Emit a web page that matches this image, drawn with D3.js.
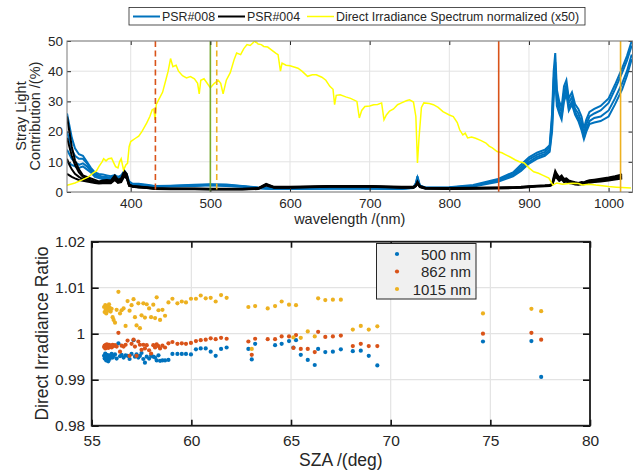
<!DOCTYPE html>
<html>
<head>
<meta charset="utf-8">
<script src="https://cdn.jsdelivr.net/npm/d3@7"></script>
<style>
  body { margin: 0; background: #fff; }
  text { font-family: "Liberation Sans", Arial, sans-serif; fill: #262626; }
</style>
</head>
<body>
<script>
// ---- top panel: stray light vs wavelength ----
const wl = [320, 323, 326, 330, 335, 340, 345, 350, 355, 360, 365, 370, 375, 380, 384, 388, 392, 395, 398, 402,
  410, 420, 430, 450, 480, 500, 520, 540, 560, 570, 580, 600, 650, 700, 740, 755, 758, 760, 763, 770,
  800, 830, 860, 880, 890, 900, 910, 920, 926, 929, 931, 933, 935, 938, 941, 944, 947, 950, 954, 958,
  962, 966, 969, 972, 976, 982, 990, 1000, 1008, 1017, 1023, 1029];

const psr008 = [
  [26, 22, 18, 14.5, 12.5, 12, 10, 8, 6.5, 6, 5.8, 5.5, 5.2, 5.6, 5, 5.5, 7, 6, 3.5, 2.8,
   2.7, 2.4, 2, 2.1, 2.4, 2.6, 2.5, 2, 1.5, 1.4, 1.3, 1.3, 1.4, 1.4, 1.3, 1.6, 3, 5.2, 2.2, 1.5,
   1.6, 2.3, 4.2, 6.5, 9, 11.5, 13, 14, 15.5, 26, 40, 46, 34, 30, 28, 35, 37, 31, 33, 29,
   27.5, 25, 21, 24, 26.5, 27.5, 28.5, 31, 35.5, 41, 45, 50],
  [20, 17, 14, 12, 11, 11, 9.5, 7.5, 6, 5.5, 5, 5, 4.7, 5.2, 4.6, 5, 6.3, 5.5, 3.2, 2.6,
   2.5, 2.2, 1.9, 2, 2.2, 2.4, 2.3, 1.9, 1.4, 1.3, 1.2, 1.2, 1.3, 1.3, 1.2, 1.5, 2.7, 4.8, 2, 1.4,
   1.5, 2.1, 3.9, 6, 8.3, 10.8, 12.3, 13.3, 14.8, 24, 37, 43, 32, 28.5, 26.5, 33, 35.5, 29.5, 31.5, 27.5,
   26, 23, 19.5, 22.5, 25, 26, 27, 29.5, 34, 39.5, 43.5, 48.5],
  [14, 12.5, 11, 10, 9, 9.5, 8.5, 7, 5.5, 5, 4.5, 4.6, 4.3, 4.8, 4.3, 4.6, 5.8, 5, 3, 2.5,
   2.4, 2.1, 1.8, 1.9, 2.1, 2.3, 2.1, 1.8, 1.3, 1.2, 1.1, 1.1, 1.2, 1.2, 1.1, 1.4, 2.5, 4.5, 1.9, 1.3,
   1.4, 2, 3.6, 5.6, 7.6, 10, 11.6, 12.6, 14, 22, 34, 41, 30, 27, 25, 31.5, 34, 28, 30, 26.5,
   24.5, 21.5, 18, 21, 23.5, 24.5, 25, 27, 31, 36, 40, 45.5],
  [10, 9.5, 9, 8.5, 8, 8.5, 7.5, 6.5, 5, 4.6, 4.2, 4.3, 4, 4.5, 4, 4.2, 5.2, 4.6, 2.8, 2.4,
   2.3, 2, 1.7, 1.8, 2, 2.2, 2, 1.7, 1.2, 1.1, 1, 1, 1.1, 1.1, 1, 1.3, 2.3, 4.2, 1.8, 1.2,
   1.3, 1.8, 3.3, 5.2, 7, 9.4, 11, 12, 13.3, 20, 31, 39, 28.5, 26, 24, 30, 32.5, 27, 29, 25.5,
   23.5, 20.5, 17.5, 20, 22.5, 23, 23.5, 25, 29, 34, 38.5, 44]
];

const psr004 = [
  [25, 20, 15, 10.5, 7.5, 5.5, 5, 4.5, 4, 3.5, 3.8, 4, 3.8, 5.5, 4, 4.5, 7, 6, 2.5, 2,
   1.8, 1.6, 1.3, 1.2, 1.2, 1.1, 1.1, 1.1, 1.3, 2.7, 1.7, 1.7, 2, 2, 1.7, 1.7, 2.3, 3.5, 2, 1.4,
   1.3, 1.4, 1.5, 1.6, 1.7, 1.9, 2.1, 2.2, 2.3, 2.6, 5, 7, 6, 4.8, 5.5, 4.3, 4.5, 3.8, 3.5, 3.2,
   3, 3.3, 3.2, 3.6, 3.9, 4.1, 4.4, 4.8, 5.2, 5.8, null, null],
  [18, 15, 12, 9, 6.5, 5, 4.6, 4, 3.5, 3.2, 3.4, 3.6, 3.4, 5, 3.6, 4, 6.3, 5.5, 2.3, 1.9,
   1.7, 1.5, 1.2, 1.1, 1.1, 1, 1, 1, 1.2, 2.5, 1.6, 1.6, 1.9, 1.9, 1.6, 1.6, 2.1, 3.2, 1.8, 1.3,
   1.2, 1.3, 1.4, 1.5, 1.6, 1.8, 2, 2.1, 2.2, 2.5, 4.5, 6.3, 5.5, 4.3, 5, 3.9, 4.1, 3.4, 3.2, 2.9,
   2.8, 3, 3, 3.3, 3.6, 3.8, 4.1, 4.4, 4.8, 5.2, null, null],
  [11, 9, 7.5, 6, 5, 4.2, 4, 3.6, 3.2, 3, 3.1, 3.3, 3.1, 4.5, 3.3, 3.6, 5.8, 5, 2.1, 1.8,
   1.6, 1.4, 1.1, 1, 1, 0.9, 0.9, 0.9, 1.1, 2.3, 1.5, 1.5, 1.8, 1.8, 1.5, 1.5, 2, 3, 1.7, 1.2,
   1.1, 1.2, 1.3, 1.4, 1.5, 1.7, 1.9, 2, 2.1, 2.4, 4, 5.8, 5, 4, 4.6, 3.6, 3.8, 3.2, 3, 2.7,
   2.6, 2.8, 2.8, 3.1, 3.3, 3.5, 3.8, 4.1, 4.4, 4.8, null, null],
  [6, 5.5, 5, 4.5, 4, 3.7, 3.5, 3.2, 3, 2.8, 2.9, 3, 2.9, 4, 3, 3.3, 5.2, 4.5, 2, 1.7,
   1.5, 1.3, 1, 0.9, 0.9, 0.8, 0.8, 0.8, 1, 2.1, 1.4, 1.4, 1.7, 1.7, 1.4, 1.4, 1.9, 2.8, 1.6, 1.1,
   1, 1.1, 1.2, 1.3, 1.4, 1.6, 1.8, 1.9, 2, 2.3, 3.6, 5.2, 4.6, 3.7, 4.2, 3.3, 3.5, 3, 2.8, 2.5,
   2.4, 2.6, 2.6, 2.9, 3.1, 3.3, 3.5, 3.8, 4.1, 4.5, null, null]
];

const irrWl = [320, 330, 339, 347, 353, 357, 360, 364, 366, 369, 372, 376, 379, 381, 384, 386, 388, 391, 394, 396,
  398, 400, 406, 410, 414, 420, 424, 427, 429, 430.5, 432, 435, 440, 444, 447, 450, 453, 457, 460, 465,
  470, 475, 480, 484, 486, 488, 492, 496, 500, 505, 510, 513, 516, 520, 525, 530, 533, 538, 542, 546,
  550, 556, 560, 564, 567, 572, 577, 582, 585, 588, 590, 595, 600, 610, 615, 622, 628, 633, 640, 645,
  650, 654, 656, 658, 663, 670, 676, 684, 687, 690, 694, 700, 705, 710, 715, 718, 721, 725, 730, 735,
  740, 746, 750, 755, 758, 760, 762, 765, 768, 775, 780, 786, 792, 800, 805, 810, 813, 817, 820, 823,
  828, 833, 840, 846, 850, 854, 860, 866, 871, 877, 883, 888, 894, 900, 906, 912, 917, 925, 930, 935,
  942, 950, 955, 962, 967, 975, 984, 992, 1000, 1010, 1017, 1028];
const irrVal = [2.2, 3, 4, 5, 6.3, 7, 8.4, 10, 11, 10.3, 11, 11.2, 9.5, 8.4, 8, 10, 11, 7.3, 9, 9.5,
  15, 16.7, 17.8, 18.5, 20, 22.8, 25, 27.2, 27.5, 23.9, 28.9, 30.5, 33, 37, 40, 44.2, 41.5, 42, 40, 38.5,
  37.8, 38.2, 37.5, 36, 32.5, 37, 37.5, 36, 34.5, 36, 37, 36, 32.5, 37, 39.5, 44, 46, 45.5, 47.5, 48.8,
  48.5, 50, 49, 48.8, 48.2, 48, 47, 46, 45.5, 40, 42.7, 42, 41.8, 41, 40, 38.3, 38.8, 38.8, 38, 37,
  35, 34, 28.9, 32, 32.2, 31.5, 31, 30, 24.5, 27, 28.3, 28.5, 28.9, 29, 29.5, 23.9, 25.5, 26.8, 27.5, 28.9,
  29.5, 30.2, 30.5, 29.8, 25, 9.6, 18, 28, 29.5, 29.3, 28.9, 28, 26.6, 25.5, 25, 23, 20.6, 18.9, 19.5, 17.9,
  18.2, 17.8, 17, 16.2, 15.2, 14.6, 13.4, 13, 12.3, 11.5, 10.6, 10, 9.6, 8, 6.7, 6.2, 5.6, 4.6, 2.3, 3,
  2.6, 2.8, 2.9, 2.8, 2.3, 2.6, 2.3, 2.1, 1.8, 1.6, 1.5, 1.3];

const markWl = [431, 500, 508, 862, 1015];
const markColor = ['#D95319', '#77AC30', '#EDB120', '#D95319', '#EDB120'];
const markDash = [true, false, true, false, false];

const legendTop = ['PSR#008', 'PSR#004', 'Direct Irradiance Spectrum normalized (x50)'];
const xTicksTop = [400, 500, 600, 700, 800, 900, 1000];
const yTicksTop = [0, 10, 20, 30, 40, 50];

// ---- bottom panel: direct irradiance ratio vs SZA ----
const sza = [55.62, 55.65, 55.68, 55.70, 55.73, 55.76, 55.80, 55.83, 55.87, 55.90, 55.95, 56.00, 56.05, 56.10, 56.17,
  56.25, 56.34, 56.42, 56.50, 56.60, 56.70, 56.80, 56.90, 57.00, 57.10, 57.17, 57.25, 57.34, 57.42, 57.50,
  57.59, 57.67, 57.76, 57.88, 57.98, 58.09, 58.18, 58.26, 58.35, 58.43, 58.55, 58.68, 58.85, 59.05, 59.30,
  59.52, 59.73, 59.98, 60.23, 60.47, 60.72, 60.97, 61.22, 61.49, 61.77, 62.86, 63.03, 63.20, 63.83, 64.20,
  64.53, 64.90, 65.12, 65.25, 65.49, 65.84, 66.19, 66.36, 66.72, 67.10, 67.50, 68.10, 68.50, 68.90, 69.33,
  74.63, 77.06, 77.55];
const ratio500 = [0.9952, 0.9946, 0.9957, 0.9949, 0.9942, 0.9954, 0.9947, 0.9940, 0.9953, 0.9945, 0.9950, 0.9956, 0.9948, 0.9952, 0.9955,
  0.9946, 0.9979, 0.9951, 0.9954, 0.9948, 0.9953, 0.9952, 0.9945, 0.9956, 0.9986, 0.9950, 0.9955, 0.9948, 0.9952, 0.9958,
  0.9945, 0.9937, 0.9950, 0.9946, 0.9952, 0.9950, 0.9948, 0.9942, 0.9953, 0.9941, 0.9942, 0.9942, 0.9943, 0.9956, 0.9956,
  0.9956, 0.9956, 0.9955, 0.9966, 0.9968, 0.9968, 0.9961, 0.9952, 0.9967, 0.9970, 0.9967, 0.9944, 0.9978, null, 0.9975,
  0.9978, 0.9984, 0.9970, 0.9986, 0.9954, 0.9943, 0.9932, 0.9967, 0.9960, 0.9961, 0.9966, 0.9962, 0.9963, 0.9952, 0.9931,
  0.9983, 0.9984, 0.9906];
const ratio862 = [0.9971, 0.9974, 0.9968, 0.9975, 0.9970, 0.9977, 0.9973, 0.9969, 0.9976, 0.9972, 0.9974, 0.9970, 0.9976, 0.9973, 0.9975,
  0.9972, 1.0002, 0.9961, 0.9974, 0.9972, 0.9976, 0.9985, 0.9952, 0.9978, 0.9987, 0.9972, 0.9952, 0.9983, 0.9976, 0.9965,
  0.9976, 0.9968, 0.9975, 0.9964, 0.9957, 0.9975, 0.9970, 0.9977, 0.9973, 0.9968, 0.9974, 0.9970, 0.9979, 0.9982, 0.9978,
  0.9979, 0.9978, 0.9980, 0.9984, 0.9986, 0.9987, 0.9990, 0.9988, 0.9991, 0.9989, 0.9983, 0.9954, 0.9989, 0.9988, 0.9988,
  0.9994, 0.9994, 0.9969, 0.9997, 0.9967, 0.9967, 0.9960, 1.0004, 0.9993, 0.9994, 0.9996, 0.9973, 0.9978, 0.9973, 0.9973,
  1.0000, 1.0002, 0.9987];
const ratio1015 = [1.0058, 1.0047, 1.0062, 1.0052, 1.0044, 1.0060, 1.0055, 1.0050, 1.0064, 1.0057, 1.0048, 1.0054, 1.0036, 1.0030, 1.0024,
  1.0052, 1.0091, 1.0044, 1.0051, 1.0055, 1.0017, 1.0071, 1.0050, 1.0062, 1.0075, 1.0036, 1.0018, 1.0066, 1.0012, 1.0040,
  1.0066, 1.0035, 1.0064, 1.0055, 1.0036, 1.0063, 1.0034, 1.0079, 1.0051, 1.0030, 1.0052, 1.0039, 1.0068, 1.0076, 1.0066,
  1.0070, 1.0068, 1.0076, 1.0076, 1.0083, 1.0077, 1.0078, 1.0070, 1.0084, 1.0078, 1.0058, 0.9967, 1.0060, 1.0055, 1.0060,
  1.0070, 1.0063, 0.9992, 1.0062, 0.9991, 1.0005, 0.9994, 1.0077, 1.0073, 1.0074, 1.0074, 1.0009, 1.0017, 1.0009, 1.0016,
  1.0044, 1.0054, 1.0049];

const legendBot = ['500 nm', '862 nm', '1015 nm'];
const xTicksBot = [55, 60, 65, 70, 75, 80];
const yTicksBot = [0.98, 0.99, 1, 1.01, 1.02];
const yTickLabelsBot = ['0.98', '0.99', '1', '1.01', '1.02'];

const W = 637, H = 473;
const svg = d3.select('body').append('svg').attr('width', W).attr('height', H);

// ================= top panel =================
const T = { l: 67, r: 632.5, t: 41, b: 192 };
const x1 = d3.scaleLinear().domain([320, 1030]).range([T.l, T.r]);
const y1 = d3.scaleLinear().domain([0, 50]).range([T.b, T.t]);

svg.append('defs').append('clipPath').attr('id', 'clipTop')
  .append('rect').attr('x', T.l).attr('y', T.t).attr('width', T.r - T.l).attr('height', T.b - T.t);

const gridTop = svg.append('g').attr('stroke', '#e3e3e3').attr('stroke-width', 1);
gridTop.selectAll('.vx').data(xTicksTop).join('line')
  .attr('x1', d => x1(d)).attr('x2', d => x1(d)).attr('y1', T.t).attr('y2', T.b);
gridTop.selectAll('.hy').data(yTicksTop).join('line')
  .attr('y1', d => y1(d)).attr('y2', d => y1(d)).attr('x1', T.l).attr('x2', T.r);

const plotTop = svg.append('g').attr('clip-path', 'url(#clipTop)');
const line1 = d3.line().defined(d => d[1] != null).x(d => x1(d[0])).y(d => y1(d[1]));

psr008.forEach(s => {
  plotTop.append('path').datum(wl.map((w, i) => [w, s[i]]))
    .attr('d', line1).attr('fill', 'none').attr('stroke', '#0072BD').attr('stroke-width', 2);
});
psr004.forEach(s => {
  plotTop.append('path').datum(wl.map((w, i) => [w, s[i]]))
    .attr('d', line1).attr('fill', 'none').attr('stroke', '#000').attr('stroke-width', 2);
});
plotTop.append('path').datum(irrWl.map((w, i) => [w, irrVal[i]]))
  .attr('d', line1).attr('fill', 'none').attr('stroke', '#FFFF00').attr('stroke-width', 1.5);

plotTop.selectAll('.mark').data(markWl).join('line')
  .attr('x1', d => x1(d)).attr('x2', d => x1(d)).attr('y1', T.t).attr('y2', T.b)
  .attr('stroke', (d, i) => markColor[i]).attr('stroke-width', 1.6)
  .attr('stroke-dasharray', (d, i) => markDash[i] ? '6,3.5' : null);

function styleAxis(g, col, fs) {
  g.select('.domain').remove();
  g.selectAll('.tick line').attr('stroke', col);
  g.selectAll('.tick text').style('font-size', fs + 'px').style('fill', '#262626')
    .style('font-family', '"Liberation Sans", Arial, sans-serif');
}

svg.append('g').attr('transform', `translate(0,${T.b})`)
  .call(d3.axisBottom(x1).tickValues(xTicksTop).tickFormat(d3.format('d'))
    .tickSizeInner(-4).tickSizeOuter(0).tickPadding(6.5))
  .call(g => styleAxis(g, '#262626', 13.5));
svg.append('g').attr('transform', `translate(0,${T.t})`)
  .call(d3.axisTop(x1).tickValues(xTicksTop).tickSizeInner(-4).tickSizeOuter(0).tickFormat(''))
  .call(g => styleAxis(g, '#262626', 13.5));
svg.append('g').attr('transform', `translate(${T.l},0)`)
  .call(d3.axisLeft(y1).tickValues(yTicksTop).tickSizeInner(-4).tickSizeOuter(0).tickPadding(4))
  .call(g => styleAxis(g, '#262626', 13.5));
svg.append('g').attr('transform', `translate(${T.r},0)`)
  .call(d3.axisRight(y1).tickValues(yTicksTop).tickSizeInner(-4).tickSizeOuter(0).tickFormat(''))
  .call(g => styleAxis(g, '#262626', 13.5));

svg.append('rect').attr('x', T.l).attr('y', T.t).attr('width', T.r - T.l).attr('height', T.b - T.t)
  .attr('fill', 'none').attr('stroke', '#7a7a7a').attr('stroke-width', 1);

svg.append('text').attr('x', (T.l + T.r) / 2).attr('y', 224).attr('text-anchor', 'middle')
  .style('font-size', '14.5px').text('wavelength /(nm)');
svg.append('text').attr('transform', 'translate(25.5,116) rotate(-90)').attr('text-anchor', 'middle')
  .style('font-size', '14.5px').text('Stray Light');
svg.append('text').attr('transform', 'translate(39.5,116) rotate(-90)').attr('text-anchor', 'middle')
  .style('font-size', '14.5px').text('Contribution /(%)');

// top legend
const lgT = svg.append('g');
lgT.append('rect').attr('x', 129).attr('y', 7.5).attr('width', 456).attr('height', 17.5)
  .attr('fill', '#fff').attr('stroke', '#262626').attr('stroke-width', 0.8);
const lgX = [133, 218, 307];
const lgCol = ['#0072BD', '#000', '#FFFF00'];
legendTop.forEach((name, i) => {
  lgT.append('line').attr('x1', lgX[i]).attr('x2', lgX[i] + 27).attr('y1', 16.5).attr('y2', 16.5)
    .attr('stroke', lgCol[i]).attr('stroke-width', i < 2 ? 2 : 1.5);
  lgT.append('text').attr('x', lgX[i] + 29).attr('y', 21).style('font-size', '12.4px').text(name);
});

// ================= bottom panel =================
const B = { l: 91.7, r: 590, t: 241.7, b: 425.7 };
const x2 = d3.scaleLinear().domain([55, 80]).range([B.l, B.r]);
const y2 = d3.scaleLinear().domain([0.98, 1.02]).range([B.b, B.t]);

const gridBot = svg.append('g').attr('stroke', '#e3e3e3').attr('stroke-width', 1.2);
gridBot.selectAll('.vx').data(xTicksBot).join('line')
  .attr('x1', d => x2(d)).attr('x2', d => x2(d)).attr('y1', B.t).attr('y2', B.b);
gridBot.selectAll('.hy').data(yTicksBot).join('line')
  .attr('y1', d => y2(d)).attr('y2', d => y2(d)).attr('x1', B.l).attr('x2', B.r);

const series = [ratio500, ratio862, ratio1015];
const serCol = ['#0072BD', '#D95319', '#EDB120'];
series.forEach((vals, k) => {
  svg.append('g').selectAll('circle')
    .data(sza.map((s, i) => [s, vals[i]]).filter(d => d[1] != null))
    .join('circle')
    .attr('cx', d => x2(d[0])).attr('cy', d => y2(d[1])).attr('r', 2.1)
    .attr('fill', serCol[k]);
});

svg.append('g').attr('transform', `translate(0,${B.b})`)
  .call(d3.axisBottom(x2).tickValues(xTicksBot).tickSizeInner(-6).tickSizeOuter(0).tickPadding(9.5))
  .call(g => styleAxis(g, '#111', 15.5))
  .call(g => g.selectAll('.tick line').attr('stroke-width', 1.6));
svg.append('g').attr('transform', `translate(0,${B.t})`)
  .call(d3.axisTop(x2).tickValues(xTicksBot).tickSizeInner(-6).tickSizeOuter(0).tickFormat(''))
  .call(g => styleAxis(g, '#111', 15.5))
  .call(g => g.selectAll('.tick line').attr('stroke-width', 1.6));
svg.append('g').attr('transform', `translate(${B.l},0)`)
  .call(d3.axisLeft(y2).tickValues(yTicksBot).tickSizeInner(-7).tickSizeOuter(0).tickPadding(6.5)
    .tickFormat((d, i) => yTickLabelsBot[i]))
  .call(g => styleAxis(g, '#111', 15.5))
  .call(g => g.selectAll('.tick line').attr('stroke-width', 1.6));
svg.append('g').attr('transform', `translate(${B.r},0)`)
  .call(d3.axisRight(y2).tickValues(yTicksBot).tickSizeInner(-7).tickSizeOuter(0).tickFormat(''))
  .call(g => styleAxis(g, '#111', 15.5))
  .call(g => g.selectAll('.tick line').attr('stroke-width', 1.6));

svg.append('rect').attr('x', B.l).attr('y', B.t).attr('width', B.r - B.l).attr('height', B.b - B.t)
  .attr('fill', 'none').attr('stroke', '#1a1a1a').attr('stroke-width', 1.8);

svg.append('text').attr('x', (B.l + B.r) / 2).attr('y', 466).attr('text-anchor', 'middle')
  .style('font-size', '17.5px').text('SZA /(deg)');
svg.append('text').attr('transform', 'translate(48,333.5) rotate(-90)').attr('text-anchor', 'middle')
  .style('font-size', '17.5px').text('Direct Irradiance Ratio');

// bottom legend
const lgB = svg.append('g');
lgB.append('rect').attr('x', 376.5).attr('y', 243.5).attr('width', 99.5).attr('height', 55.5)
  .attr('fill', '#f0f0f0').attr('stroke', '#262626').attr('stroke-width', 1);
const lgRowY = [254, 271.5, 289];
legendBot.forEach((name, i) => {
  lgB.append('circle').attr('cx', 397).attr('cy', lgRowY[i]).attr('r', 2.1).attr('fill', serCol[i]);
  lgB.append('text').attr('x', 471).attr('y', lgRowY[i] + 5.5).attr('text-anchor', 'end')
    .style('font-size', '15px').text(name);
});
</script>
</body>
</html>
